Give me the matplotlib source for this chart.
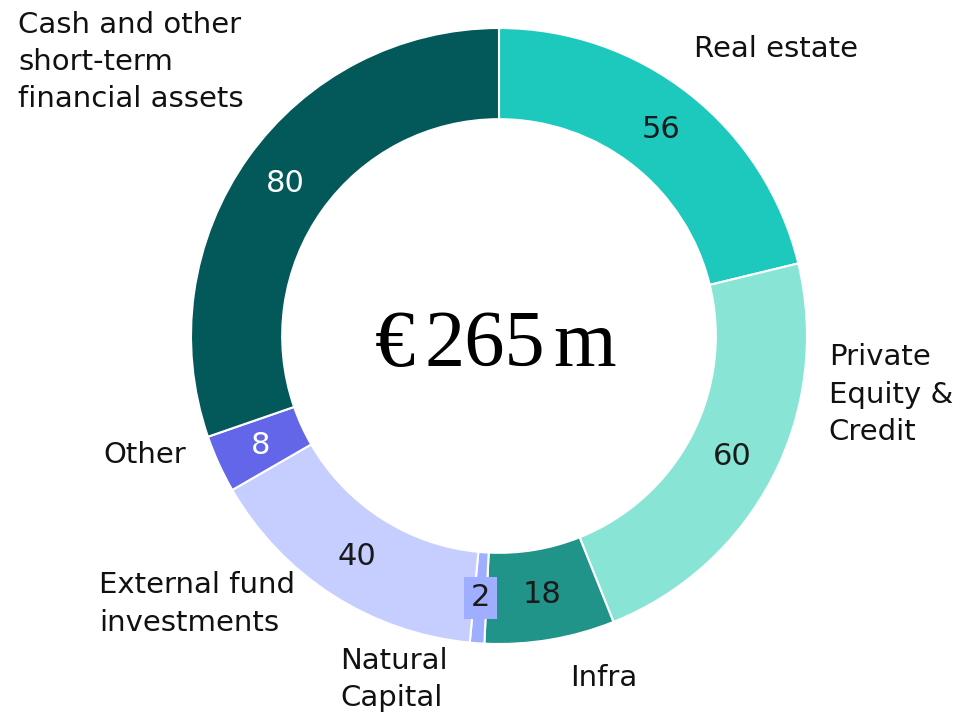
#!/usr/bin/env python3
import matplotlib
matplotlib.use('Agg')
import numpy as np
import matplotlib.pyplot as plt

# allocation, EUR m, clockwise from 12 o'clock
labels = ['Real estate', 'Private\nEquity &\nCredit', 'Infra', 'Natural\nCapital',
          'External fund\ninvestments', 'Other', 'Cash and other\nshort-term\nfinancial assets']
values = [56, 60, 18, 2, 40, 8, 80]
total_parts = ['€', '265', 'm']

colours = ['#1DC9BC', '#88E5D6', '#21948A', '#A0AEFF', '#C5CEFF', '#6366E8', '#03585A']
value_colours = ['#1a1a1a', '#1a1a1a', '#1a1a1a', '#1a1a1a', '#1a1a1a', 'white', 'white']

# outer label anchor (data units, radius 1 = outer ring edge), left aligned, vertically centred
label_pos = [(0.634, 0.932), (1.071, -0.190), (0.231, -1.109), (-0.515, -1.115),
             (-1.298, -0.870), (-1.285, -0.386), (-1.562, 0.890)]

W, H = 962, 715
cx, cy, R = 499, 336, 308
ring = 0.296

fig = plt.figure(figsize=(W/100, H/100), dpi=100)
ax = fig.add_axes([0, 0, 1, 1])

wedges, _ = ax.pie(values, colors=colours, startangle=90, counterclock=False,
                   radius=1.0, wedgeprops=dict(width=ring, edgecolor='white', linewidth=1.5))

acc = 0
for i, v in enumerate(values):
    mid = np.deg2rad(90 - (acc + v/2) / sum(values) * 360)
    acc += v
    r = 1 - ring/2
    kw = {}
    if v < 5:
        kw['bbox'] = dict(boxstyle='square,pad=0.22', facecolor=colours[i], edgecolor='none')
    ax.text(r*np.cos(mid), r*np.sin(mid), str(v), ha='center', va='center',
            fontsize=22, color=value_colours[i], **kw)

for lab, (x, y) in zip(labels, label_pos):
    ax.text(x, y, lab, ha='left', va='center', fontsize=21, color='#111111', linespacing=1.42)

# centre total, set tight like the original condensed serif
serif = dict(fontsize=58, family='Liberation Serif', color='black', va='baseline')
ax.text(-0.272, -0.097, total_parts[0], ha='right', **serif)
ax.text(-0.045, -0.097, total_parts[1], ha='center', **serif)
ax.text(0.175, -0.097, total_parts[2], ha='left', **serif)

ax.set_xlim(-cx/R, (W-cx)/R)
ax.set_ylim(-(H-cy)/R, cy/R)
ax.set_aspect('equal', adjustable='box')
ax.axis('off')

fig.savefig('out.png', dpi=100)
